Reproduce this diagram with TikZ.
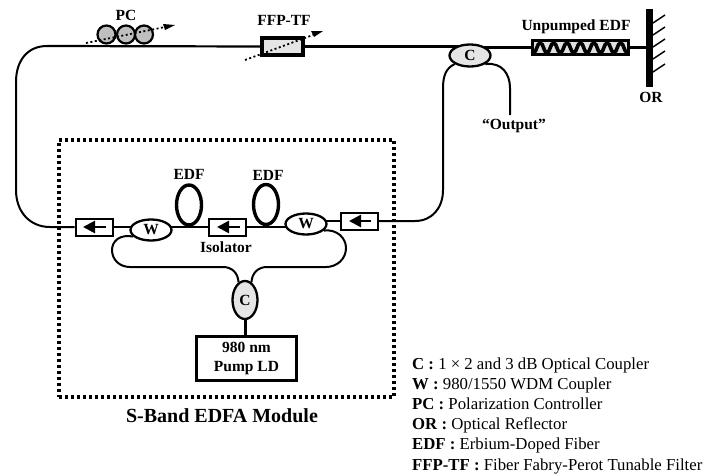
\documentclass[tikz,border=0pt]{standalone}
\usepackage{fontspec}
\setmainfont{Liberation Serif}
\usetikzlibrary{arrows.meta,shapes.geometric}
\pgfdeclarelayer{bg}
\pgfsetlayers{bg,main}
\tikzset{
 fiber/.style={draw=black,line width=2.2pt},
 lab/.style={font=\fontsize{15.5}{19}\selectfont\bfseries,inner sep=0pt,align=center},
 legend/.style={font=\fontsize{16.75}{19}\selectfont,inner sep=0pt,anchor=base west},
 coup/.style={shape=ellipse,draw=black,line width=2.3pt,fill=black!10,inner sep=0pt,font=\fontsize{15.5}{19}\selectfont\bfseries},
 wdm/.style={coup,fill=white},
 iso/.style={draw=black,line width=2pt,fill=white,inner sep=0pt,minimum width=37pt,minimum height=17pt},
 isoarrow/.style={line width=2.6pt,-{Triangle[length=12pt,width=12pt]}},
 edfloop/.style={shape=ellipse,draw=black,line width=3.4pt,inner sep=0pt,minimum width=25pt,minimum height=40pt},
 pcdisc/.style={circle,draw=black,line width=2.2pt,fill=black!25,inner sep=0pt,minimum size=18pt},
 tune/.style={line width=1.8pt,line cap=butt,dash pattern=on 2pt off 2.5pt},
}
\begin{document}
\begin{tikzpicture}[x=1pt,y=-1pt]
\useasboundingbox (0,0) rectangle (704,474);
\coordinate (tl) at (47,46);
\coordinate (ol) at (510,115);
% components
\node[pcdisc] (pc1) at (106.5,34.5) {};
\node[pcdisc] (pc2) at (126,34.5) {};
\node[pcdisc] (pc3) at (144,34.5) {};
\node[draw=black,line width=4.4pt,fill=black!10,minimum width=41pt,minimum height=17pt,inner sep=0pt] (ffp) at (282.5,46.5) {};
\node[coup,minimum width=41pt,minimum height=22pt] (c1) at (470,55.5) {C};
\node[draw=black,line width=2.2pt,fill=black!12,minimum width=96pt,minimum height=14pt,inner sep=0pt] (uedf) at (580.5,47.5) {};
\node[fill=black,inner sep=0pt,minimum width=7pt,minimum height=78pt] (or) at (649.5,48) {};
\node[iso] (iso1) at (94,227) {};
\node[iso] (iso2) at (227,227) {};
\node[iso] (iso3) at (359.5,221) {};
\node[wdm,minimum width=41pt,minimum height=21pt] (w1) at (151,230) {W};
\node[wdm,minimum width=41pt,minimum height=21pt] (w2) at (306,224) {W};
\node[coup,minimum width=25pt,minimum height=38pt] (c2) at (245,300) {C};
\node[draw=black,line width=2.2pt,fill=white,minimum width=100pt,minimum height=44pt,inner sep=0pt,lab] (ld) at (246.5,358.5) {980 nm\\Pump LD};
\node[edfloop] (e1) at (189,205) {};
\node[edfloop] (e2) at (266,204.5) {};
\begin{pgfonlayer}{bg}
\node[draw=black,line width=3.6pt,dash pattern=on 3pt off 3pt,inner sep=0pt,minimum width=335pt,minimum height=257pt] (frame) at (226.5,268.5) {};
\draw[fiber] (tl) -- (ffp.west);
\draw[fiber] (ffp.east) -- (c1.north |- ffp.east);
\draw[fiber] (c1.center |- uedf.west) -- (uedf.west);
\draw[fiber] (uedf.east) -- (or.west |- uedf.east);
\draw[fiber,line width=2pt] (tl) .. controls (28,46) and (16,60) .. (16,82) -- (16,190) .. controls (16,212) and (30,227) .. (50,227) -- (iso1.west);
\draw[fiber] (iso1.east) -- (w1.center |- iso1.east);
\draw[fiber] (w1.center |- iso2.west) -- (iso2.west);
\draw[fiber] (iso2.east) -- (w2.center |- iso2.east);
\draw[fiber] (w2.center |- iso3.west) -- (iso3.west);
\draw[fiber,line width=2pt] (iso3.east) -- (415,221) .. controls (432,221) and (443,208) .. (443,190) -- (443,88) .. controls (443,76) and (446,68) .. (c1.south west);
\draw[fiber,line width=2pt] (c1.south east) .. controls (502,62) and (510,74) .. (510,88) -- (ol);
\draw[fiber,line width=2pt] (w1.200) .. controls (120,234) and (112,241) .. (112,250) .. controls (112,260) and (120,267) .. (130,267) -- (223,267) .. controls (232,267) and (238,273) .. (c2.110);
\draw[fiber,line width=2pt] (w2.-20) .. controls (337,229) and (346,238) .. (346,248) .. controls (346,259) and (337,267) .. (326,267) -- (267,267) .. controls (258,267) and (252,273) .. (c2.70);
\draw[fiber,line width=3pt] (c2.south) -- (c2.south |- ld.north);
\end{pgfonlayer}
\draw[isoarrow] (106,227) -- (83,227);
\draw[isoarrow] (240,227) -- (217,227);
\draw[isoarrow] (371,221) -- (349,221);
% wave in the unpumped fibre
\draw[black,line width=3.6pt] (533.5,52.5) \foreach \i in {0,...,6} { .. controls +(3.4,0) and +(-3.4,0) .. ++(6.7,-9.5) .. controls +(3.4,0) and +(-3.4,0) .. ++(6.7,9.5) };
% mirror hatching
\foreach \y in {23,35,47,59,72}{
 \draw[line width=1.4pt] (653,\y) -- (665,\y-8);
}
% tuning arrows
\coordinate (pa) at (86,43); \coordinate (pb) at (175,25);
\coordinate (fa) at (245,60); \coordinate (fb) at (323,31);
\draw[tune] (pa) -- (165,27);
\fill (pb) -- (163,24) -- (165,30) -- cycle;
\draw[tune] (fa) -- (313,35);
\fill (fb) -- (311,31) -- (314,37) -- cycle;
% labels
\node[lab] (lpc) at (126,15) {PC};
\node[lab] (lffp) at (284,20) {FFP-TF};
\node[lab] (luedf) at (576,27) {Unpumped EDF};
\node[lab] (lor) at (651,97) {OR};
\node[lab] (lout) at (514,126) {“Output”};
\node[lab] (ledf1) at (189,174) {EDF};
\node[lab] (ledf2) at (268,175) {EDF};
\node[lab] (liso) at (226,247) {Isolator};
\node[font=\fontsize{20}{22}\selectfont\bfseries,inner sep=0pt] (lmod) at (222,415.5) {S-Band EDFA Module};
% legend
\node[legend] (k1) at (412,369) {\textbf{C :} 1 × 2 and 3 dB Optical Coupler};
\node[legend] (k2) at (412,389.2) {\textbf{W :} 980/1550 WDM Coupler};
\node[legend] (k3) at (412,409.4) {\textbf{PC :} Polarization Controller};
\node[legend] (k4) at (412,429.6) {\textbf{OR :} Optical Reflector};
\node[legend] (k5) at (412,449.8) {\textbf{EDF :} Erbium-Doped Fiber};
\node[legend] (k6) at (412,470) {\textbf{FFP-TF :} Fiber Fabry-Perot Tunable Filter};
\end{tikzpicture}
\end{document}
